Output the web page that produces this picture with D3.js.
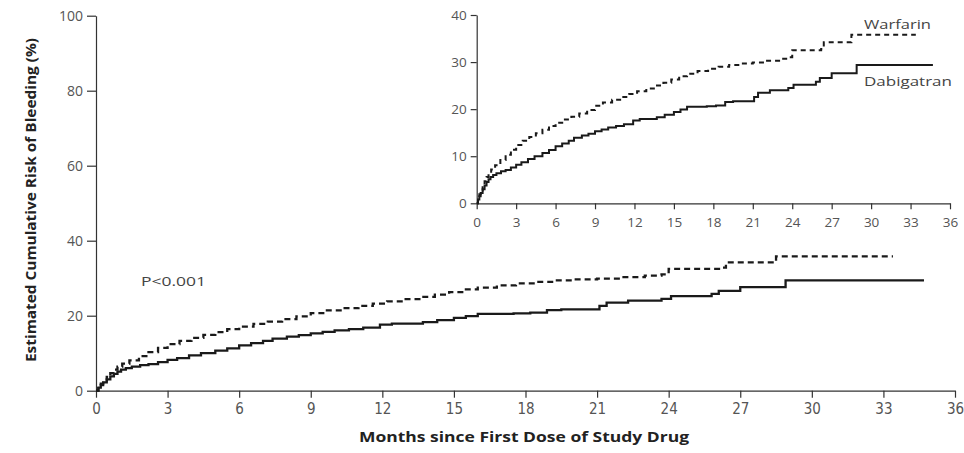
<!DOCTYPE html>
<html>
<head>
<meta charset="utf-8">
<script src="https://cdn.jsdelivr.net/npm/d3@7"></script>
<style>
  html, body { margin: 0; padding: 0; background: #fff; }
  svg { display: block; }
  .tick text { fill: #555; }
</style>
</head>
<body>
<svg id="chart" width="964" height="453"></svg>
<script>
// Kaplan–Meier estimates of cumulative bleeding risk (%), by month since first dose
const dabigatranMonths = [0, 0.1, 0.2, 0.3, 0.45, 0.6, 0.75, 0.9, 1.05, 1.25, 1.5, 1.85, 2.2, 2.6, 3.0, 3.4, 3.9, 4.4, 5.0, 5.5, 6.0, 6.5, 7.0, 7.4, 8.0, 8.5, 9.0, 9.5, 10.0, 10.6, 11.2, 11.9, 12.4, 13.7, 14.3, 15.0, 15.5, 16.0, 17.5, 18.2, 18.9, 19.5, 21.1, 21.4, 22.3, 23.7, 24.1, 25.8, 26.1, 27.0, 28.9, 34.7];
const dabigatranRisk   = [0, 0.8, 1.5, 2.2, 3.0, 3.8, 4.5, 5.1, 5.6, 6.0, 6.4, 6.8, 7.1, 7.6, 8.2, 8.7, 9.4, 10.0, 10.7, 11.3, 12.1, 12.7, 13.3, 13.9, 14.4, 14.8, 15.3, 15.7, 16.1, 16.4, 16.8, 17.6, 17.9, 18.3, 18.8, 19.4, 19.9, 20.5, 20.6, 20.8, 21.5, 21.7, 22.6, 23.5, 24.0, 24.5, 25.2, 25.8, 26.6, 27.6, 29.4, 29.4];

const warfarinMonths = [0, 0.1, 0.2, 0.3, 0.45, 0.6, 0.75, 0.9, 1.1, 1.4, 1.8, 2.2, 2.6, 3.0, 3.5, 4.0, 4.5, 5.0, 5.5, 6.0, 6.6, 7.2, 7.8, 8.4, 9.0, 9.6, 10.3, 11.0, 11.6, 12.2, 12.9, 13.6, 14.2, 14.8, 15.4, 16.0, 16.8, 17.6, 18.4, 19.2, 20.0, 21.0, 22.0, 23.0, 23.7, 24.0, 26.2, 26.4, 28.5, 33.4];
const warfarinRisk   = [0, 1.0, 1.9, 2.7, 3.7, 4.7, 5.6, 6.4, 7.2, 8.1, 9.2, 10.3, 11.4, 12.4, 13.3, 14.1, 14.9, 15.6, 16.4, 17.1, 17.8, 18.4, 19.1, 19.8, 20.7, 21.4, 22.0, 22.6, 23.2, 23.8, 24.4, 25.0, 25.6, 26.3, 27.0, 27.5, 28.1, 28.6, 29.0, 29.4, 29.7, 29.9, 30.3, 30.7, 31.0, 32.5, 32.8, 34.2, 35.8, 35.8];

const monthTicks = [0, 3, 6, 9, 12, 15, 18, 21, 24, 27, 30, 33, 36];
const mainRiskTicks = [0, 20, 40, 60, 80, 100];
const insetRiskTicks = [0, 10, 20, 30, 40];

const seriesNames = ["Warfarin", "Dabigatran"];
const pValueText = "P<0.001";
const xTitle = "Months since First Dose of Study Drug";
const yTitle = "Estimated Cumulative Risk of Bleeding (%)";

const dabigatran = dabigatranMonths.map((m, i) => ({ m, v: dabigatranRisk[i] }));
const warfarin = warfarinMonths.map((m, i) => ({ m, v: warfarinRisk[i] }));

const svg = d3.select("#chart");
const sans = "'Open Sans', 'Noto Sans', 'DejaVu Sans', sans-serif";
const narrow = "'Liberation Sans Narrow', 'DejaVu Sans Condensed', sans-serif";
const axisColor = "#333";
const lineColor = "#1a1a1a";

function styleAxis(g) {
  g.select(".domain").attr("stroke", axisColor).attr("stroke-width", 1.2);
  g.selectAll(".tick line").attr("stroke", axisColor).attr("stroke-width", 1.2);
}

// ---------- main panel ----------
const x = d3.scaleLinear().domain([0, 36]).range([96, 955]);
const y = d3.scaleLinear().domain([0, 100]).range([390.7, 15.7]);

svg.append("g")
  .attr("transform", `translate(0,${y(0)})`)
  .call(d3.axisBottom(x).tickValues(monthTicks).tickSize(7).tickPadding(6).tickSizeOuter(0))
  .call(styleAxis)
  .call(g => g.selectAll(".tick text").attr("font-family", narrow).attr("font-size", 15));

svg.append("g")
  .attr("transform", `translate(${x(0)},0)`)
  .call(d3.axisLeft(y).tickValues(mainRiskTicks).tickSize(9).tickPadding(4).tickSizeOuter(0))
  .call(styleAxis)
  .call(g => g.selectAll(".tick text").attr("font-family", sans).attr("font-size", 14));

const mainLine = d3.line().x(d => x(d.m)).y(d => y(d.v)).curve(d3.curveStepAfter);

svg.append("path").datum(warfarin)
  .attr("d", mainLine).attr("fill", "none")
  .attr("stroke", lineColor).attr("stroke-width", 2.3)
  .attr("stroke-dasharray", "6,4");

svg.append("path").datum(dabigatran)
  .attr("d", mainLine).attr("fill", "none")
  .attr("stroke", lineColor).attr("stroke-width", 2.3);

svg.append("text")
  .attr("x", 141).attr("y", 285.5)
  .attr("font-family", sans).attr("font-size", 13).attr("fill", "#444")
  .attr("textLength", 65).attr("lengthAdjust", "spacingAndGlyphs")
  .text(pValueText);

svg.append("text")
  .attr("x", 524).attr("y", 441.5).attr("text-anchor", "middle")
  .attr("font-family", sans).attr("font-size", 14).attr("font-weight", "bold").attr("fill", "#222")
  .attr("textLength", 330).attr("lengthAdjust", "spacingAndGlyphs")
  .text(xTitle);

svg.append("text")
  .attr("transform", "translate(36,200) rotate(-90)")
  .attr("text-anchor", "middle")
  .attr("font-family", sans).attr("font-size", 14).attr("font-weight", "bold").attr("fill", "#222")
  .attr("textLength", 324).attr("lengthAdjust", "spacingAndGlyphs")
  .text(yTitle);

// ---------- inset panel (same curves, 0–40% scale) ----------
const xi = d3.scaleLinear().domain([0, 36]).range([476.7, 950]);
const yi = d3.scaleLinear().domain([0, 40]).range([203.3, 15]);

svg.append("g")
  .attr("transform", `translate(0,${yi(0)})`)
  .call(d3.axisBottom(xi).tickValues(monthTicks).tickSize(6).tickPadding(8).tickSizeOuter(0))
  .call(styleAxis)
  .call(g => g.selectAll(".tick text").attr("font-family", sans).attr("font-size", 13.5));

svg.append("g")
  .attr("transform", `translate(${xi(0)},0)`)
  .call(d3.axisLeft(yi).tickValues(insetRiskTicks).tickSize(6).tickPadding(4).tickSizeOuter(0))
  .call(styleAxis)
  .call(g => g.selectAll(".tick text").attr("font-family", sans).attr("font-size", 13.5));

const insetLine = d3.line().x(d => xi(d.m)).y(d => yi(d.v)).curve(d3.curveStepAfter);

svg.append("path").datum(warfarin)
  .attr("d", insetLine).attr("fill", "none")
  .attr("stroke", lineColor).attr("stroke-width", 2)
  .attr("stroke-dasharray", "5,4");

svg.append("path").datum(dabigatran)
  .attr("d", insetLine).attr("fill", "none")
  .attr("stroke", lineColor).attr("stroke-width", 2);

svg.append("text")
  .attr("x", 864).attr("y", 28.5)
  .attr("font-family", sans).attr("font-size", 13).attr("fill", "#444")
  .attr("textLength", 67).attr("lengthAdjust", "spacingAndGlyphs")
  .text(seriesNames[0]);

svg.append("text")
  .attr("x", 864).attr("y", 86)
  .attr("font-family", sans).attr("font-size", 13).attr("fill", "#444")
  .attr("textLength", 88).attr("lengthAdjust", "spacingAndGlyphs")
  .text(seriesNames[1]);
</script>
</body>
</html>
